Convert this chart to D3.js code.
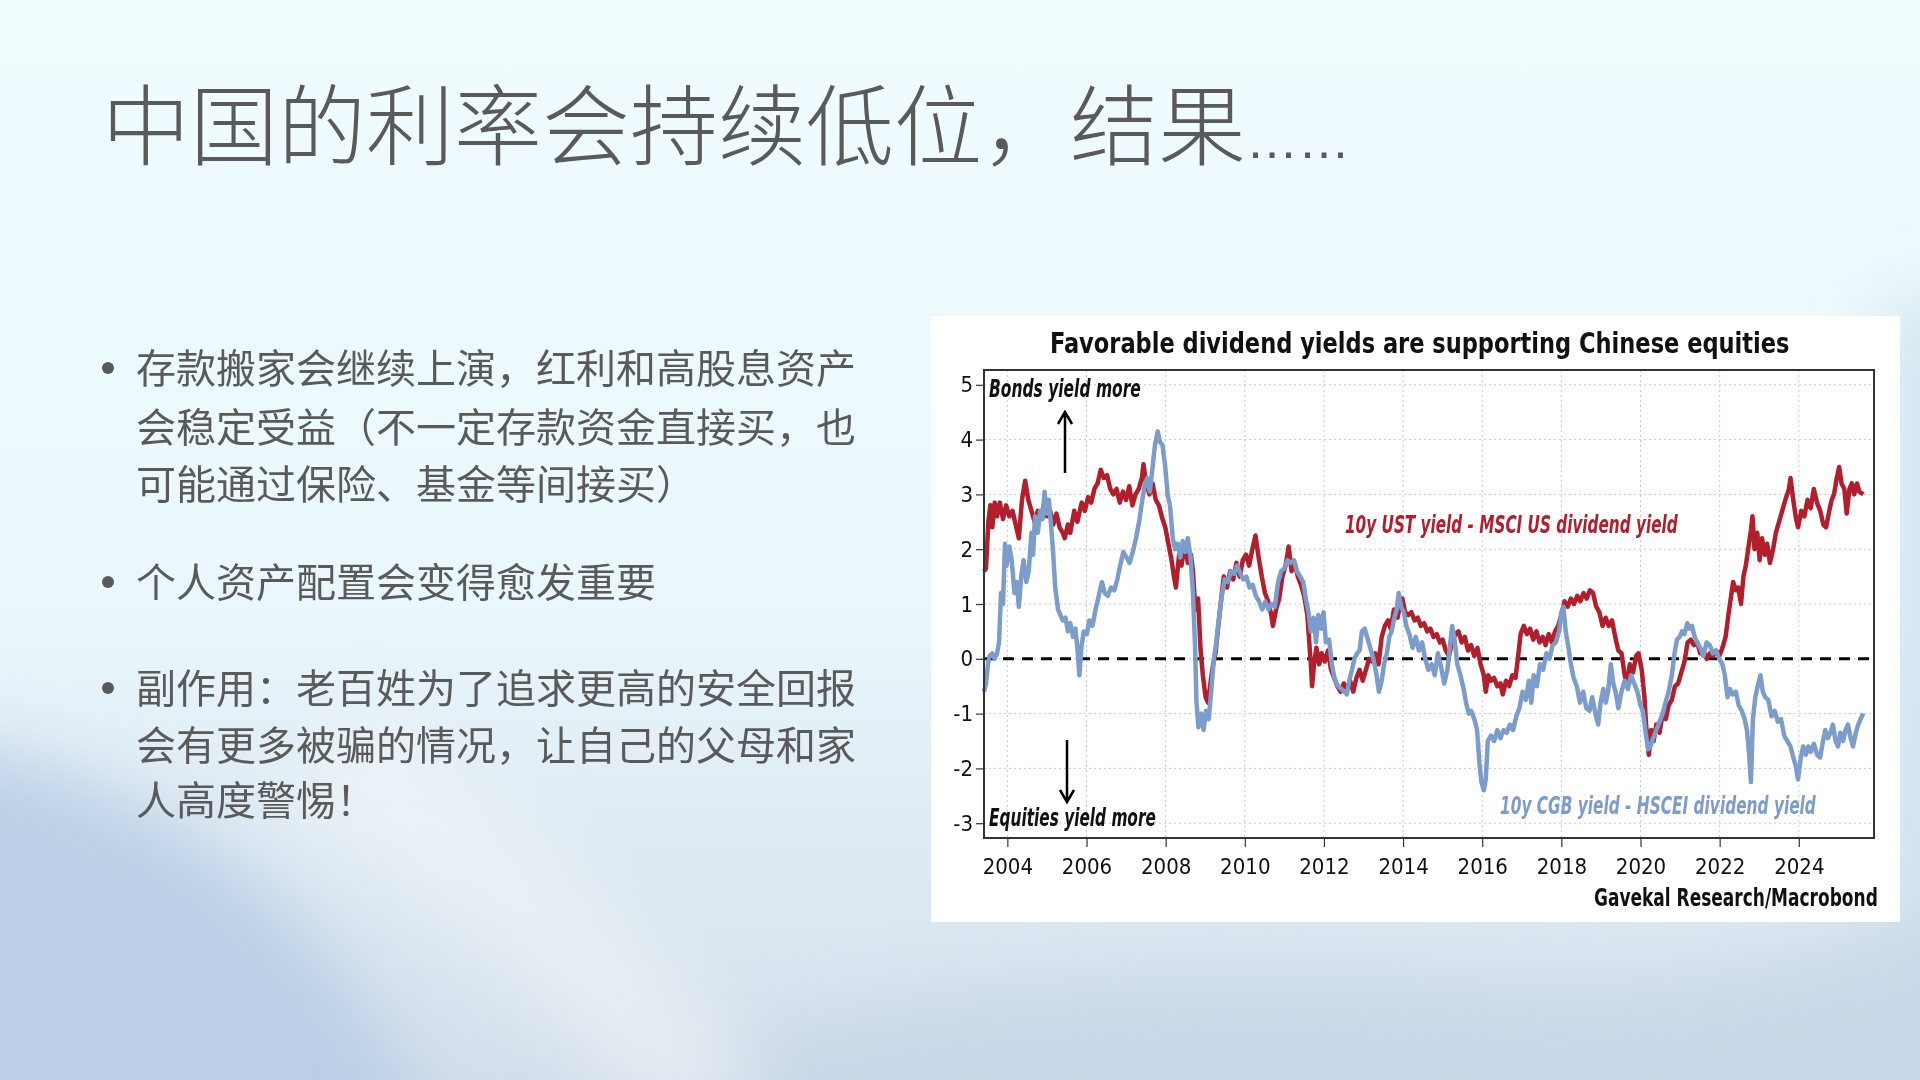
<!DOCTYPE html>
<html>
<head>
<meta charset="utf-8">
<script src="https://cdn.jsdelivr.net/npm/d3@7"></script>
<style>
  html, body { margin: 0; padding: 0; overflow: hidden; }
  svg { display: block; }
</style>
</head>
<body>
<script>
// slide text
const titleText = '中国的利率会持续低位，结果';
const bulletLines = [
    ['存款搬家会继续上演，红利和高股息资产', '会稳定受益（不一定存款资金直接买，也', '可能通过保险、基金等间接买）'],
    ['个人资产配置会变得愈发重要'],
    ['副作用：老百姓为了追求更高的安全回报', '会有更多被骗的情况，让自己的父母和家', '人高度警惕！']
];

// chart ticks
const xTickYears = [2004, 2006, 2008, 2010, 2012, 2014, 2016, 2018, 2020, 2022, 2024];
const yTickValues = [-3, -2, -1, 0, 1, 2, 3, 4, 5];

// 10y UST yield - MSCI US dividend yield  [year, value]
const ustData = [
    [2003.41,1.6],[2003.46,1.65],[2003.52,2.5],[2003.57,2.8],[2003.62,2.4],[2003.68,2.85],[2003.74,2.6],[2003.81,2.85],
    [2003.89,2.55],[2003.97,2.8],[2004.05,2.6],[2004.13,2.7],[2004.21,2.45],[2004.29,2.2],[2004.37,2.9],[2004.45,3.25],
    [2004.53,2.9],[2004.61,2.7],[2004.69,2.5],[2004.77,2.7],[2004.85,2.55],[2004.93,2.85],[2005.0,2.6],[2005.08,2.7],
    [2005.16,2.45],[2005.24,2.65],[2005.32,2.4],[2005.4,2.3],[2005.45,2.2],[2005.53,2.45],[2005.59,2.3],[2005.69,2.7],
    [2005.77,2.5],[2005.88,2.85],[2005.96,2.7],[2006.04,2.95],[2006.12,2.85],[2006.2,3.1],[2006.28,3.2],[2006.36,3.45],
    [2006.44,3.3],[2006.52,3.35],[2006.6,3.1],[2006.68,3.0],[2006.76,3.1],[2006.84,2.85],[2006.92,3.05],[2007.0,2.9],
    [2007.08,3.15],[2007.16,2.8],[2007.24,3.0],[2007.32,3.1],[2007.4,3.3],[2007.44,3.55],[2007.51,3.2],[2007.59,3.0],
    [2007.67,3.2],[2007.75,2.9],[2007.83,2.8],[2007.92,2.55],[2007.99,2.4],[2008.07,2.1],[2008.15,1.8],[2008.21,1.5],
    [2008.26,1.3],[2008.34,1.9],[2008.4,1.7],[2008.48,2.1],[2008.56,1.75],[2008.64,1.9],[2008.69,1.6],[2008.75,0.9],
    [2008.82,1.1],[2008.88,0.2],[2008.94,-0.3],[2009.01,-0.7],[2009.07,-0.8],[2009.14,-0.4],[2009.2,-0.1],[2009.26,0.1],
    [2009.33,0.6],[2009.39,1.0],[2009.47,1.5],[2009.55,1.3],[2009.63,1.6],[2009.71,1.45],[2009.79,1.75],[2009.87,1.5],
    [2009.95,1.8],[2010.03,1.9],[2010.11,1.7],[2010.19,2.0],[2010.27,2.25],[2010.35,1.85],[2010.43,1.5],[2010.51,1.2],
    [2010.59,1.05],[2010.67,0.8],[2010.71,0.6],[2010.79,0.9],[2010.87,1.1],[2010.95,1.5],[2011.03,1.7],[2011.11,2.05],
    [2011.18,1.6],[2011.26,1.75],[2011.34,1.5],[2011.42,1.35],[2011.5,1.15],[2011.58,0.8],[2011.62,0.4],[2011.67,-0.1],
    [2011.7,-0.5],[2011.75,-0.1],[2011.81,0.2],[2011.88,-0.1],[2011.94,0.1],[2012.02,-0.05],[2012.1,0.15],[2012.18,-0.2],
    [2012.26,-0.35],[2012.34,-0.5],[2012.42,-0.6],[2012.5,-0.45],[2012.58,-0.55],[2012.66,-0.4],[2012.74,-0.6],[2012.82,-0.35],
    [2012.9,-0.2],[2012.98,-0.4],[2013.06,-0.2],[2013.14,0.0],[2013.22,-0.05],[2013.3,0.1],[2013.38,-0.1],[2013.46,0.4],
    [2013.54,0.6],[2013.62,0.7],[2013.69,0.55],[2013.77,0.9],[2013.86,0.75],[2013.94,1.05],[2013.98,1.1],[2014.05,0.85],
    [2014.13,0.8],[2014.21,0.85],[2014.29,0.7],[2014.37,0.75],[2014.45,0.6],[2014.53,0.65],[2014.61,0.5],[2014.69,0.55],
    [2014.77,0.4],[2014.85,0.45],[2014.93,0.3],[2015.0,0.35],[2015.08,0.15],[2015.16,0.05],[2015.24,0.3],[2015.32,0.45],
    [2015.4,0.5],[2015.48,0.3],[2015.56,0.4],[2015.64,0.15],[2015.72,0.25],[2015.8,0.05],[2015.88,0.2],[2015.96,-0.1],
    [2016.04,-0.3],[2016.09,-0.6],[2016.15,-0.3],[2016.22,-0.4],[2016.3,-0.35],[2016.38,-0.5],[2016.46,-0.45],[2016.52,-0.65],
    [2016.6,-0.4],[2016.68,-0.5],[2016.76,-0.3],[2016.84,-0.35],[2016.9,0.0],[2016.97,0.45],[2017.05,0.6],[2017.13,0.45],
    [2017.21,0.55],[2017.29,0.35],[2017.37,0.5],[2017.45,0.3],[2017.53,0.4],[2017.6,0.25],[2017.68,0.45],[2017.76,0.3],
    [2017.84,0.5],[2017.92,0.6],[2018.0,0.8],[2018.08,1.05],[2018.16,0.95],[2018.24,1.1],[2018.32,1.0],[2018.4,1.15],
    [2018.48,1.05],[2018.56,1.2],[2018.64,1.1],[2018.72,1.25],[2018.8,1.2],[2018.88,0.95],[2018.96,0.85],[2019.04,0.6],
    [2019.12,0.75],[2019.2,0.6],[2019.28,0.7],[2019.36,0.4],[2019.44,0.15],[2019.52,0.1],[2019.6,-0.3],[2019.65,-0.45],
    [2019.73,-0.1],[2019.81,-0.25],[2019.89,0.05],[2019.95,0.1],[2020.03,-0.2],[2020.1,-0.7],[2020.14,-1.2],[2020.21,-1.75],
    [2020.27,-1.3],[2020.33,-1.5],[2020.4,-1.2],[2020.48,-1.35],[2020.56,-1.0],[2020.64,-1.1],[2020.71,-0.85],[2020.79,-0.75],
    [2020.87,-0.5],[2020.95,-0.45],[2021.03,-0.25],[2021.11,-0.05],[2021.19,0.3],[2021.27,0.35],[2021.35,0.25],[2021.43,0.3],
    [2021.51,0.1],[2021.59,0.15],[2021.67,0.0],[2021.75,0.1],[2021.83,0.05],[2021.91,0.15],[2021.99,0.05],[2022.07,0.2],
    [2022.15,0.4],[2022.22,0.8],[2022.28,1.1],[2022.34,1.4],[2022.41,1.25],[2022.47,1.3],[2022.54,1.0],[2022.6,1.5],
    [2022.66,1.7],[2022.72,2.0],[2022.79,2.35],[2022.83,2.6],[2022.88,2.0],[2022.95,2.3],[2023.01,1.8],[2023.07,2.2],
    [2023.14,1.9],[2023.2,2.1],[2023.27,1.75],[2023.35,2.0],[2023.42,2.3],[2023.5,2.5],[2023.58,2.7],[2023.66,2.9],
    [2023.75,3.1],[2023.79,3.3],[2023.86,2.9],[2023.92,2.6],[2023.98,2.4],[2024.06,2.7],[2024.14,2.6],[2024.22,2.9],
    [2024.3,2.75],[2024.38,3.1],[2024.46,2.85],[2024.54,2.7],[2024.62,2.45],[2024.69,2.4],[2024.77,2.7],[2024.83,2.9],
    [2024.89,3.0],[2024.96,3.3],[2025.02,3.5],[2025.08,3.2],[2025.15,3.1],[2025.21,2.65],[2025.28,3.1],[2025.34,3.2],
    [2025.4,3.0],[2025.47,3.2],[2025.53,3.05],[2025.63,3.0]
];

// 10y CGB yield - HSCEI dividend yield  [year, value]
const cgbData = [
    [2003.41,-0.6],[2003.46,-0.45],[2003.51,-0.1],[2003.55,0.05],[2003.62,0.1],[2003.68,0.0],[2003.74,0.1],[2003.79,0.3],
    [2003.84,1.2],[2003.89,1.0],[2003.94,2.1],[2003.98,1.7],[2004.05,2.05],[2004.11,1.8],[2004.18,1.2],[2004.24,1.4],
    [2004.29,0.95],[2004.35,1.5],[2004.41,1.8],[2004.48,1.4],[2004.54,1.6],[2004.61,2.3],[2004.65,1.9],[2004.7,2.6],
    [2004.77,2.3],[2004.83,2.7],[2004.89,2.55],[2004.94,3.05],[2005.0,2.65],[2005.05,2.9],[2005.12,2.3],[2005.16,1.9],
    [2005.21,1.3],[2005.28,0.9],[2005.34,0.8],[2005.4,0.7],[2005.47,0.75],[2005.53,0.5],[2005.59,0.65],[2005.66,0.4],
    [2005.72,0.55],[2005.77,0.2],[2005.82,-0.3],[2005.87,0.2],[2005.93,0.5],[2006.01,0.45],[2006.07,0.7],[2006.15,0.6],
    [2006.23,0.9],[2006.31,1.15],[2006.39,1.4],[2006.46,1.2],[2006.54,1.15],[2006.62,1.3],[2006.7,1.25],[2006.78,1.45],
    [2006.85,1.7],[2006.93,1.95],[2007.01,1.85],[2007.09,1.75],[2007.17,1.95],[2007.25,2.2],[2007.33,2.5],[2007.41,2.9],
    [2007.48,3.2],[2007.54,3.3],[2007.6,3.05],[2007.67,3.5],[2007.73,3.9],[2007.8,4.15],[2007.86,3.95],[2007.92,3.9],
    [2007.99,3.5],[2008.05,3.0],[2008.11,2.8],[2008.18,2.2],[2008.24,2.0],[2008.31,2.1],[2008.37,1.85],[2008.43,2.15],
    [2008.5,1.95],[2008.56,2.2],[2008.63,1.85],[2008.69,1.2],[2008.74,0.3],[2008.78,-0.8],[2008.83,-1.25],[2008.9,-1.0],
    [2008.96,-1.3],[2009.02,-0.95],[2009.09,-1.1],[2009.15,-0.6],[2009.22,0.0],[2009.28,0.3],[2009.34,0.7],[2009.41,1.1],
    [2009.49,1.45],[2009.57,1.4],[2009.65,1.6],[2009.73,1.55],[2009.81,1.7],[2009.89,1.55],[2009.96,1.45],[2010.04,1.5],
    [2010.12,1.3],[2010.2,1.35],[2010.28,1.15],[2010.36,1.05],[2010.44,0.9],[2010.52,1.05],[2010.6,0.9],[2010.68,1.0],
    [2010.76,0.95],[2010.84,1.4],[2010.92,1.6],[2011.0,1.65],[2011.08,1.8],[2011.16,1.75],[2011.24,1.8],[2011.32,1.6],
    [2011.4,1.5],[2011.48,1.4],[2011.54,1.1],[2011.61,0.85],[2011.67,0.5],[2011.74,0.75],[2011.8,0.3],[2011.86,0.8],
    [2011.93,0.55],[2011.99,0.85],[2012.05,0.3],[2012.13,0.35],[2012.2,-0.1],[2012.28,-0.4],[2012.36,-0.5],[2012.44,-0.55],
    [2012.52,-0.6],[2012.58,-0.65],[2012.64,-0.4],[2012.71,-0.2],[2012.77,0.0],[2012.84,0.1],[2012.9,0.15],[2012.96,0.5],
    [2013.03,0.55],[2013.09,0.4],[2013.17,0.2],[2013.25,0.0],[2013.33,-0.3],[2013.39,-0.6],[2013.46,-0.4],[2013.52,-0.1],
    [2013.59,0.1],[2013.65,0.4],[2013.71,0.5],[2013.78,0.75],[2013.84,0.9],[2013.89,1.2],[2013.95,0.95],[2014.02,0.85],
    [2014.08,0.6],[2014.16,0.45],[2014.24,0.2],[2014.32,0.4],[2014.4,0.15],[2014.48,0.3],[2014.56,0.0],[2014.64,-0.2],
    [2014.72,-0.1],[2014.8,-0.3],[2014.88,0.1],[2014.96,-0.15],[2015.04,-0.45],[2015.12,-0.2],[2015.18,0.2],[2015.24,0.6],
    [2015.31,0.3],[2015.37,-0.1],[2015.45,-0.3],[2015.53,-0.55],[2015.59,-0.8],[2015.66,-1.0],[2015.72,-0.95],[2015.8,-1.1],
    [2015.87,-1.3],[2015.93,-1.9],[2015.98,-2.25],[2016.04,-2.4],[2016.09,-2.2],[2016.14,-1.5],[2016.22,-1.4],[2016.3,-1.5],
    [2016.38,-1.3],[2016.46,-1.45],[2016.54,-1.3],[2016.62,-1.35],[2016.7,-1.2],[2016.78,-1.3],[2016.86,-1.05],[2016.94,-0.9],
    [2017.02,-0.6],[2017.1,-0.75],[2017.18,-0.4],[2017.24,-0.8],[2017.3,-0.3],[2017.38,-0.5],[2017.46,-0.1],[2017.54,-0.2],
    [2017.62,0.1],[2017.7,0.0],[2017.78,0.25],[2017.86,0.3],[2017.94,0.5],[2018.0,0.85],[2018.05,0.95],[2018.11,0.5],
    [2018.18,0.2],[2018.24,-0.1],[2018.31,-0.35],[2018.39,-0.5],[2018.47,-0.8],[2018.55,-0.6],[2018.63,-0.9],[2018.71,-0.95],
    [2018.78,-0.7],[2018.86,-1.0],[2018.93,-1.2],[2018.99,-0.8],[2019.06,-0.55],[2019.12,-0.8],[2019.18,-0.6],[2019.25,-0.1],
    [2019.31,-0.45],[2019.37,-0.6],[2019.44,-0.9],[2019.52,-0.6],[2019.6,-0.4],[2019.68,-0.55],[2019.76,-0.3],[2019.84,-0.45],
    [2019.92,-0.6],[2020.0,-0.85],[2020.06,-0.95],[2020.13,-1.35],[2020.19,-1.65],[2020.25,-1.6],[2020.32,-1.45],[2020.4,-1.3],
    [2020.48,-1.15],[2020.56,-1.0],[2020.63,-0.8],[2020.71,-0.6],[2020.79,-0.3],[2020.86,0.1],[2020.92,0.35],[2020.99,0.4],
    [2021.05,0.5],[2021.11,0.45],[2021.18,0.65],[2021.24,0.55],[2021.3,0.6],[2021.37,0.4],[2021.43,0.3],[2021.51,0.2],
    [2021.59,0.05],[2021.67,0.3],[2021.75,0.25],[2021.83,0.1],[2021.91,0.15],[2021.99,0.0],[2022.07,-0.1],[2022.13,-0.3],
    [2022.2,-0.7],[2022.26,-0.55],[2022.33,-0.65],[2022.41,-0.6],[2022.48,-0.85],[2022.56,-0.95],[2022.63,-1.1],[2022.69,-1.3],
    [2022.74,-1.7],[2022.79,-2.25],[2022.84,-1.1],[2022.9,-0.7],[2022.96,-0.5],[2023.03,-0.3],[2023.09,-0.6],[2023.15,-0.7],
    [2023.23,-0.75],[2023.31,-1.05],[2023.39,-0.95],[2023.47,-1.15],[2023.55,-1.1],[2023.63,-1.4],[2023.71,-1.5],[2023.79,-1.6],
    [2023.86,-1.8],[2023.92,-1.95],[2023.98,-2.2],[2024.05,-1.8],[2024.11,-1.6],[2024.18,-1.75],[2024.24,-1.6],[2024.3,-1.7],
    [2024.38,-1.55],[2024.46,-1.75],[2024.54,-1.8],[2024.61,-1.5],[2024.67,-1.3],[2024.73,-1.45],[2024.8,-1.35],[2024.86,-1.2],
    [2024.93,-1.5],[2024.99,-1.6],[2025.05,-1.35],[2025.12,-1.5],[2025.18,-1.3],[2025.24,-1.2],[2025.31,-1.45],[2025.37,-1.6],
    [2025.44,-1.35],[2025.5,-1.2],[2025.56,-1.1],[2025.63,-1.0]
];

const W = 1920, H = 1080;
const RED = '#b21e2b', BLUE = '#7c9ccc';
const condensed = '"Liberation Sans Narrow", "DejaVu Sans Condensed", "Open Sans", sans-serif';

const svg = d3.select('body').append('svg')
    .attr('width', W)
    .attr('height', H);

// slide background: pale cyan on top, soft blue-grey blobs at the bottom
const defs = svg.append('defs');
const bg = defs.append('linearGradient').attr('id', 'bg')
    .attr('x1', 0).attr('y1', 0).attr('x2', 0).attr('y2', 1);
bg.append('stop').attr('offset', '0%').attr('stop-color', '#f0fcfe');
bg.append('stop').attr('offset', '55%').attr('stop-color', '#eaf7fc');
bg.append('stop').attr('offset', '100%').attr('stop-color', '#d4dfeb');
defs.append('filter').attr('id', 'blur')
    .attr('x', '-50%').attr('y', '-50%').attr('width', '200%').attr('height', '200%')
    .append('feGaussianBlur').attr('stdDeviation', 35);

svg.append('rect').attr('width', W).attr('height', H).attr('fill', 'url(#bg)');

const blobs = svg.append('g').attr('filter', 'url(#blur)');
blobs.append('path')
    .attr('d', 'M-80,740 C120,770 320,870 450,1160 L-80,1160 Z')
    .attr('fill', '#b9cde6').attr('opacity', 0.95);
blobs.append('path')
    .attr('d', 'M560,1160 C700,1000 1100,960 1500,990 C1700,1000 1850,960 2000,880 L2000,1160 Z')
    .attr('fill', '#c6d6e7').attr('opacity', 0.8);
blobs.append('path')
    .attr('d', 'M1880,300 L2000,300 L2000,900 L1880,900 Z')
    .attr('fill', '#cfe0ee').attr('opacity', 0.8);
// lighter diagonal streak
svg.append('path')
    .attr('d', 'M330,760 C480,860 600,960 720,1120')
    .attr('fill', 'none').attr('stroke', '#f4f6f8').attr('stroke-width', 120)
    .attr('opacity', 0.55).attr('filter', 'url(#blur)');

// title
const title = svg.append('text')
    .attr('x', 102).attr('y', 158)
    .attr('fill', '#5a5a5a')
    .style('font-family', '"Noto Sans CJK SC", sans-serif')
    .style('font-weight', 300)
    .style('font-size', '88px');
title.append('tspan').text(titleText);
title.append('tspan')
    .style('font-family', '"Liberation Sans", sans-serif')
    .style('font-size', '52px')
    .text('……');

// bullet list
const lineCenters = [[368, 427, 484], [582], [688, 745, 800]];
bulletLines.forEach((lines, i) => {
    svg.append('circle')
        .attr('cx', 108).attr('cy', lineCenters[i][0])
        .attr('r', 6).attr('fill', '#5a5a5a');
    svg.selectAll(null)
        .data(lines)
        .enter()
        .append('text')
        .attr('x', 136)
        .attr('y', (d, j) => lineCenters[i][j] + 15)
        .attr('fill', '#5a5a5a')
        .style('font-family', '"Noto Sans CJK SC", sans-serif')
        .style('font-size', '40px')
        .text(d => d);
});

// chart panel
svg.append('rect')
    .attr('x', 931).attr('y', 316)
    .attr('width', 969).attr('height', 606)
    .attr('fill', '#ffffff');

// condensed text: draw at natural size, then squeeze horizontally to the wanted width
function squeezed(txt, x0, y0, width, opts) {
    const t = svg.append('text')
        .attr('fill', opts.color)
        .style('font-family', condensed)
        .style('font-style', opts.italic ? 'italic' : 'normal')
        .style('font-weight', opts.weight)
        .style('font-size', opts.size + 'px')
        .text(txt);
    const natural = t.node().getComputedTextLength();
    const sx = natural > 0 ? width / natural : 1;
    t.attr('transform', `translate(${x0},${y0}) scale(${sx},1)`);
    return t;
}

squeezed('Favorable dividend yields are supporting Chinese equities', 1050, 353, 740,
    {color: '#111', weight: 'bold', size: 28});

const plot = {left: 984, right: 1874, top: 370, bottom: 838};

const x = d3.scaleLinear().domain([2003.41, 2025.9]).range([plot.left, plot.right]);
const y = d3.scaleLinear().domain([-3.27, 5.27]).range([plot.bottom, plot.top]);

// grid
svg.append('g').selectAll('line')
    .data(yTickValues)
    .enter()
    .append('line')
    .attr('x1', plot.left).attr('x2', plot.right)
    .attr('y1', d => y(d)).attr('y2', d => y(d))
    .attr('stroke', '#c8c8c8').attr('stroke-width', 1)
    .attr('stroke-dasharray', '2,3');
svg.append('g').selectAll('line')
    .data(xTickYears)
    .enter()
    .append('line')
    .attr('x1', d => x(d)).attr('x2', d => x(d))
    .attr('y1', plot.top).attr('y2', plot.bottom)
    .attr('stroke', '#c8c8c8').attr('stroke-width', 1)
    .attr('stroke-dasharray', '2,3');

// axes
const xAxis = svg.append('g')
    .attr('transform', `translate(0,${plot.bottom})`)
    .call(d3.axisBottom(x).tickValues(xTickYears).tickFormat(d3.format('d')).tickSize(9).tickPadding(11));
const yAxis = svg.append('g')
    .attr('transform', `translate(${plot.left},0)`)
    .call(d3.axisLeft(y).tickValues(yTickValues).tickFormat(d => String(d)).tickSize(8).tickPadding(3));
[xAxis, yAxis].forEach(g => {
    g.select('.domain').remove();
    g.selectAll('.tick line').attr('stroke', '#333').attr('stroke-width', 1.2);
    g.selectAll('.tick text')
        .attr('fill', '#111')
        .style('font-family', condensed)
        .style('font-size', '22px');
});

// zero line (under the series)
svg.append('line')
    .attr('x1', plot.left).attr('x2', plot.right)
    .attr('y1', y(0)).attr('y2', y(0))
    .attr('stroke', '#000').attr('stroke-width', 3)
    .attr('stroke-dasharray', '11,8');

// series lines
const line = d3.line()
    .x(d => x(d[0]))
    .y(d => y(d[1]));

svg.append('path')
    .datum(ustData)
    .attr('d', line)
    .attr('fill', 'none')
    .attr('stroke', RED)
    .attr('stroke-width', 4.5)
    .attr('stroke-linejoin', 'round');

svg.append('path')
    .datum(cgbData)
    .attr('d', line)
    .attr('fill', 'none')
    .attr('stroke', BLUE)
    .attr('stroke-width', 4.5)
    .attr('stroke-linejoin', 'round');

// frame
svg.append('rect')
    .attr('x', plot.left).attr('y', plot.top)
    .attr('width', plot.right - plot.left).attr('height', plot.bottom - plot.top)
    .attr('fill', 'none')
    .attr('stroke', '#333').attr('stroke-width', 2);

// labels inside the plot
const labelStyle = c => ({color: c, weight: 600, size: 24, italic: true});
squeezed('Bonds yield more', 989, 397, 152, labelStyle('#111'));
squeezed('Equities yield more', 989, 826, 167, labelStyle('#111'));
squeezed('10y UST yield - MSCI US dividend yield', 1345, 533, 333, labelStyle(RED));
squeezed('10y CGB yield - HSCEI dividend yield', 1500, 814, 316, labelStyle(BLUE));

// arrows
svg.append('path')
    .attr('d', 'M1065,473 L1065,413 M1058,424 L1065,412 L1072,424')
    .attr('fill', 'none').attr('stroke', '#000').attr('stroke-width', 2.5);
svg.append('path')
    .attr('d', 'M1067,740 L1067,801 M1060,790 L1067,802 L1074,790')
    .attr('fill', 'none').attr('stroke', '#000').attr('stroke-width', 2.5);

// source
squeezed('Gavekal Research/Macrobond', 1594, 906, 284, {color: '#111', weight: 'bold', size: 24});
</script>
</body>
</html>
